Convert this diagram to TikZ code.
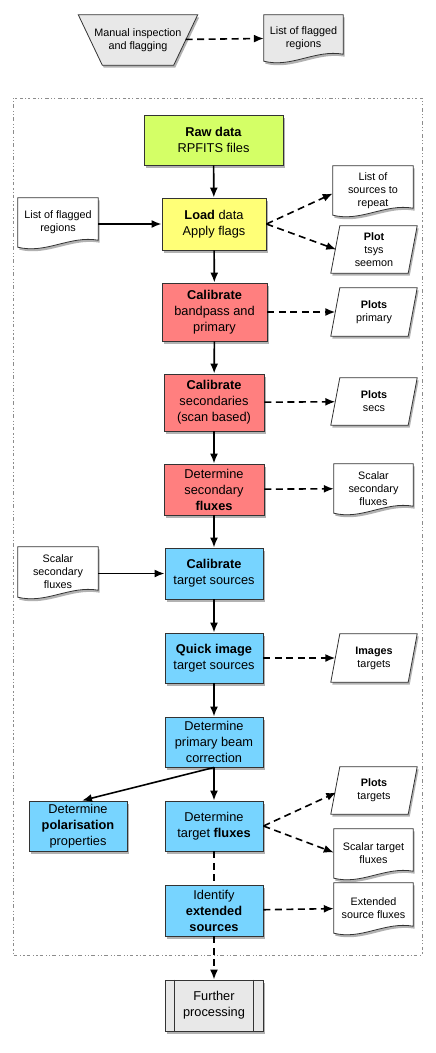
\documentclass[tikz,border=0pt]{standalone}
\usepackage{fontspec}
\setmainfont{Liberation Sans}
\usetikzlibrary{arrows.meta,shadows,calc,backgrounds}
\newcommand\mainfs{\fontsize{12.8}{16}\selectfont}
\newcommand\sidefs{\fontsize{10.8}{13}\selectfont}
\definecolor{cgreen}{HTML}{D4FF66}
\definecolor{cyellow}{HTML}{FFFF77}
\definecolor{cred}{HTML}{FF7F7F}
\definecolor{cblue}{HTML}{77D4FF}
\definecolor{cgray}{HTML}{E8E8E8}
\newcommand\docshape[1]{\path[shp] (#1.north west) -- (#1.north east) -- ($(#1.south east)+(0,-7)$) .. controls ($(#1.south west)!0.65!(#1.south east)+(0,-12)$) and ($(#1.south west)!0.35!(#1.south east)+(0,7)$) .. (#1.south west) -- cycle;}
\newcommand\parashape[1]{\path[shp] ($(#1.north west)+(4.5,0)$) -- ($(#1.north east)+(4.5,0)$) -- ($(#1.south east)+(-4.5,0)$) -- ($(#1.south west)+(-4.5,0)$) -- cycle;}
\begin{document}
\begin{tikzpicture}[x=1pt,y=-1pt,
  shad/.style={drop shadow={shadow xshift=1.5pt, shadow yshift=-2.5pt, opacity=0.3, fill=black}},
  box/.style={draw=black!80, line width=0.9pt, align=center, inner sep=0pt, font=\mainfs, shad},
  txt/.style={align=center, inner sep=0pt, font=\sidefs},
  shp/.style={draw=black!80, line width=0.8pt, fill=white, shad},
  arr/.style={line width=1.6pt, -{Latex[length=10pt,width=8pt]}},
  darr/.style={arr, dash pattern=on 7pt off 4.5pt},
  dline/.style={line width=1.6pt, dash pattern=on 7pt off 4.5pt}
]
\useasboundingbox (0,0) rectangle (436,1053);

% frame
\draw[black!45, line width=0.9pt, dash pattern=on 1.2pt off 2pt on 1.2pt off 2pt on 3.5pt off 3pt] (13,98) rectangle (422,955);

% main boxes
\node[box, fill=cgreen, minimum width=139pt, minimum height=50pt] (raw) at (213.5,140) {\textbf{Raw data}\\RPFITS files};
\node[box, fill=cyellow, minimum width=104pt, minimum height=52pt] (load) at (214,224) {\textbf{Load} data\\Apply flags};
\node[box, fill=cred, minimum width=105pt, minimum height=58pt] (cal1) at (214.5,312) {\textbf{Calibrate}\\bandpass and\\primary};
\node[box, fill=cred, minimum width=100pt, minimum height=57pt] (cal2) at (214,402.5) {\textbf{Calibrate}\\secondaries\\(scan based)};
\node[box, fill=cred, minimum width=100pt, minimum height=51pt] (detsec) at (214,489.5) {Determine\\secondary\\\textbf{fluxes}};
\node[box, fill=cblue, minimum width=98pt, minimum height=51pt] (caltgt) at (214,573.5) {\textbf{Calibrate}\\target sources};
\node[box, fill=cblue, minimum width=98pt, minimum height=50pt] (quick) at (214,658) {\textbf{Quick image}\\target sources};
\node[box, fill=cblue, minimum width=98pt, minimum height=50pt] (beam) at (214,742) {Determine\\primary beam\\correction};
\node[box, fill=cblue, minimum width=98pt, minimum height=50pt] (pol) at (78,826) {Determine\\\textbf{polarisation}\\properties};
\node[box, fill=cblue, minimum width=98pt, minimum height=50pt] (tflux) at (214,826) {Determine\\target \textbf{fluxes}};
\node[box, fill=cblue, minimum width=98pt, minimum height=51pt] (ident) at (214,910.5) {Identify\\\textbf{extended}\\\textbf{sources}};
\node[box, fill=cgray, minimum width=98pt, minimum height=51pt] (further) at (214,1005.5) {Further\\processing};
\draw[black!80, line width=0.9pt] ($(further.north west)+(10,0)$) -- ($(further.south west)+(10,0)$);
\draw[black!80, line width=0.9pt] ($(further.north east)+(-10,0)$) -- ($(further.south east)+(-10,0)$);

% side nodes (text only; shapes on background)
\node[txt, minimum width=95pt, minimum height=50pt] (manual) at (138,40) {Manual inspection\\and flagging};
\node[txt, minimum width=79pt, minimum height=46pt] (flag1) at (303.5,38) {List of flagged\\regions};
\node[txt, minimum width=80pt, minimum height=49pt] (flag2) at (58,222.5) {List of flagged\\regions};
\node[txt, minimum width=80pt, minimum height=49pt] (srcrep) at (373,190.5) {List of\\sources to\\repeat};
\node[txt, minimum width=77pt, minimum height=47pt] (tsys) at (374,249.5) {\textbf{Plot}\\tsys\\seemon};
\node[txt, minimum width=77pt, minimum height=48pt] (pprim) at (374,312) {\textbf{Plots}\\primary};
\node[txt, minimum width=77pt, minimum height=47pt] (psecs) at (374,401.5) {\textbf{Plots}\\secs};
\node[txt, minimum width=79pt, minimum height=49pt] (scalsec) at (373.5,488.5) {Scalar\\secondary\\fluxes};
\node[txt, minimum width=80pt, minimum height=50pt] (scalsecL) at (58,572) {Scalar\\secondary\\fluxes};
\node[txt, minimum width=77pt, minimum height=48pt] (images) at (374,658) {\textbf{Images}\\targets};
\node[txt, minimum width=77pt, minimum height=47pt] (ptgt) at (374,790.5) {\textbf{Plots}\\targets};
\node[txt, minimum width=79pt, minimum height=49pt] (scaltgt) at (373.5,853.5) {Scalar target\\fluxes};
\node[txt, minimum width=79pt, minimum height=50pt] (extsrc) at (373.5,908) {Extended\\source fluxes};

\begin{scope}[on background layer]
  \path[shp, fill=cgray] ($(manual.north west)+(-12,0)$) -- ($(manual.north east)+(12,0)$) -- ($(manual.south east)+(-12,0)$) -- ($(manual.south west)+(12,0)$) -- cycle;
  \path[shp, fill=cgray] (flag1.north west) -- (flag1.north east) -- ($(flag1.south east)+(0,-7)$) .. controls ($(flag1.south west)!0.65!(flag1.south east)+(0,-12)$) and ($(flag1.south west)!0.35!(flag1.south east)+(0,7)$) .. (flag1.south west) -- cycle;
  \docshape{flag2}
  \docshape{srcrep}
  \docshape{scalsec}
  \docshape{scalsecL}
  \docshape{scaltgt}
  \docshape{extsrc}
  \parashape{tsys}
  \parashape{pprim}
  \parashape{psecs}
  \parashape{images}
  \parashape{ptgt}
\end{scope}

% connectors
\draw[darr] (manual) -- (flag1);
\draw[arr] (raw) -- (load);
\draw[arr] ($(flag2.east)+(0,1.5)$) -- (load.west);
\draw[darr] (load.east) -- ($(srcrep.west)+(0,3)$);
\draw[darr] (load.east) -- ($(tsys.west)+(1,0)$);
\draw[arr] (load) -- (cal1);
\draw[darr] (cal1) -- (pprim);
\draw[arr] (cal1) -- (cal2);
\draw[darr] (cal2) -- (psecs);
\draw[arr] (cal2) -- (detsec);
\draw[darr] (detsec) -- (scalsec);
\draw[arr] (detsec) -- (caltgt);
\draw[arr] ($(scalsecL.east)+(0,1.5)$) -- (caltgt.west);
\draw[arr] (caltgt) -- (quick);
\draw[darr] (quick) -- (images);
\draw[arr] (quick) -- (beam);
\draw[arr] (beam.south) -- ($(pol.north)+(4,0)$);
\draw[arr] (beam) -- (tflux);
\draw[darr] (tflux.east) -- ($(ptgt.west)+(1,2)$);
\draw[darr] (tflux.east) -- ($(scaltgt.west)+(0,-1)$);
\draw[dline] (tflux) -- (ident);
\draw[darr] (ident) -- (extsrc);
\draw[darr] (ident) -- (further);
\end{tikzpicture}
\end{document}
